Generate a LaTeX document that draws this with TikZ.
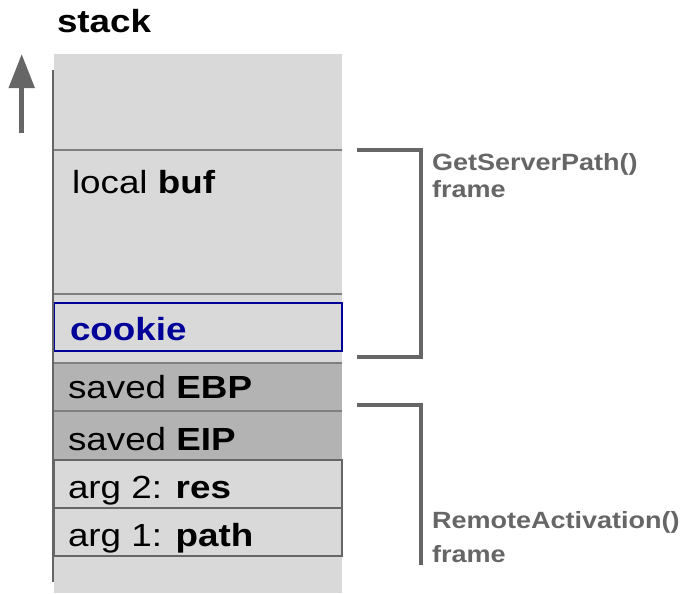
\documentclass[tikz,border=0pt]{standalone}
\usepackage{fontspec}
\setmainfont{Liberation Sans}[FakeStretch=1.15]
\usetikzlibrary{arrows.meta}
\definecolor{cellfill}{HTML}{D9D9D9}
\definecolor{savedfill}{HTML}{B3B3B3}
\definecolor{rulegrey}{HTML}{666666}
\definecolor{sepgrey}{HTML}{808080}
\definecolor{cookieblue}{HTML}{000099}
\begin{document}
\begin{tikzpicture}[x=1pt,y=-1pt,
  txt/.style={anchor=base west, inner sep=0pt, outer sep=0pt,
              font=\fontsize{32}{36}\selectfont},
  title/.style={txt, font=\fontsize{32}{36}\selectfont\bfseries},
  framelabel/.style={txt, text=rulegrey,
              font=\fontsize{23.5}{26}\selectfont\bfseries},
  sep/.style={draw=sepgrey, line width=2pt},
  slotbox/.style={draw=rulegrey, line width=2pt, fill=cellfill},
  bracket/.style={draw=rulegrey, line width=3.5pt},
  growth/.style={draw=rulegrey, line width=5pt,
              -{Triangle[width=25pt,length=34pt]}}
]
\useasboundingbox (0,0) rectangle (685,594);

% stack body
\fill[cellfill] (54,54) rectangle (342,593);
\draw[sep] (54,150) -- (342,150);
\draw[sep] (54,294) -- (342,294);

% canary slot
\draw[draw=cookieblue, line width=2pt, fill=cellfill] (54,303) rectangle (342,351);

% saved registers
\fill[savedfill] (54,363) rectangle (342,460);
\draw[sep] (54,363) -- (342,363);
\draw[sep] (54,411) -- (342,411);

% arguments
\draw[slotbox] (54,460) rectangle (342,508);
\draw[slotbox] (54,508) rectangle (342,556);

% left edge of the stack
\draw[draw=rulegrey, line width=2.5pt] (53,70) -- (53,582);

% growth direction
\coordinate (growfrom) at (21.7,133);
\coordinate (growto) at (21.7,54);
\draw[growth] (growfrom) -- (growto);

% frame brackets
\draw[bracket] (357,150) -- (421,150) -- (421,357) -- (357,357);
\draw[bracket] (357,405) -- (421,405) -- (421,565);

% texts
\node[title] (stacktitle) at (57,33) {stack};
\node[txt] (localbuf) at (72,193) {local \textbf{buf}};
\node[txt, text=cookieblue] (cookie) at (70,340) {\textbf{cookie}};
\node[txt] (savedebp) at (68,398) {saved \textbf{EBP}};
\node[txt] (savedeip) at (68,450) {saved \textbf{EIP}};
\node[txt] (argres) at (68,498) {arg 2: \textbf{res}};
\node[txt] (argpath) at (68,546) {arg 1: \textbf{path}};

\node[framelabel] (gsp) at (432,170) {GetServerPath()};
\node[framelabel] (gspframe) at (432,197) {frame};
\node[framelabel] (ra) at (432,528) {RemoteActivation()};
\node[framelabel] (raframe) at (432,562) {frame};
\end{tikzpicture}
\end{document}
